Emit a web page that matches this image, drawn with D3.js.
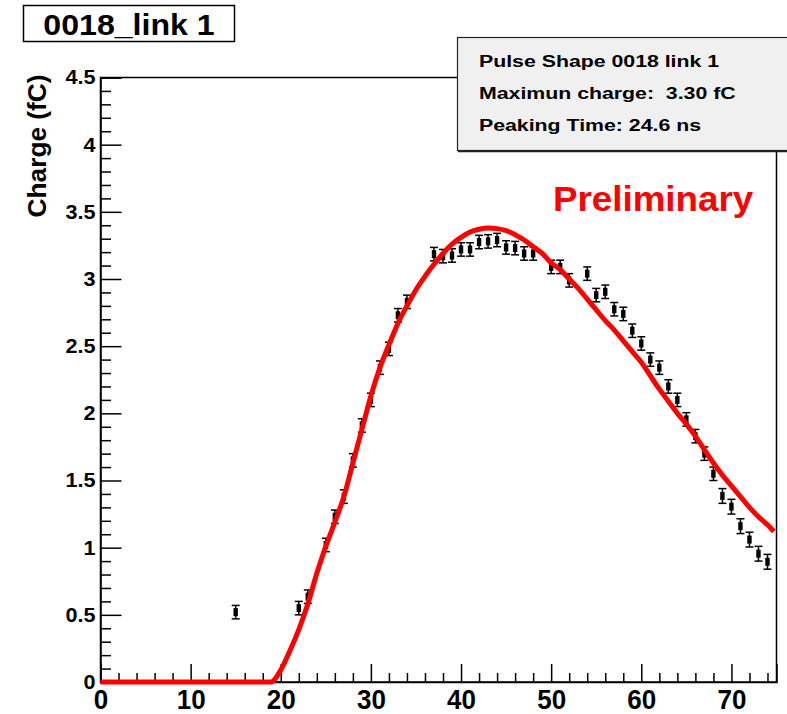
<!DOCTYPE html>
<html>
<head>
<meta charset="utf-8">
<script src="https://cdn.jsdelivr.net/npm/d3@7"></script>
<style>
  html, body { margin: 0; padding: 0; background: #fff; }
  svg { display: block; font-family: "Liberation Sans", Arial, Helvetica, sans-serif; font-weight: bold; }
  svg text { white-space: pre; }
</style>
</head>
<body>
<svg id="chart" width="787" height="714"></svg>
<script>
// Measured pulse samples: time (ns), charge (fC), vertical error (fC)
const sampleTime = [15, 22, 23, 25, 26, 27, 28, 29, 30, 31, 32, 33, 34, 37, 38, 39, 40, 41, 42, 43, 44, 45, 46, 47, 48,
  50, 51, 52, 54, 55, 56, 57, 58, 59, 60, 61, 62, 63, 64, 65, 66, 67, 68, 69, 70, 71, 72, 73, 74];
const sampleCharge = [0.52, 0.55, 0.635, 1.02, 1.23, 1.38, 1.65, 1.91, 2.10, 2.34, 2.48, 2.73, 2.83, 3.185, 3.17, 3.175,
  3.22, 3.22, 3.275, 3.28, 3.29, 3.235, 3.23, 3.19, 3.19, 3.09, 3.09, 2.99, 3.04, 2.88, 2.905, 2.775, 2.74, 2.615, 2.52,
  2.40, 2.34, 2.20, 2.10, 1.955, 1.83, 1.70, 1.55, 1.385, 1.305, 1.16, 1.06, 0.955, 0.895];
const sampleError = [0.05, 0.05, 0.05, 0.05, 0.05, 0.05, 0.05, 0.05, 0.05, 0.05, 0.05, 0.05, 0.05, 0.05, 0.05, 0.05,
  0.05, 0.05, 0.05, 0.05, 0.05, 0.05, 0.05, 0.05, 0.05, 0.05, 0.05, 0.05, 0.05, 0.05, 0.05, 0.05, 0.05, 0.05, 0.05,
  0.05, 0.05, 0.05, 0.05, 0.05, 0.05, 0.05, 0.05, 0.055, 0.055, 0.055, 0.055, 0.055, 0.055];

// Fitted pulse shape
const fitTime = [0, 18.9, 20, 21, 22, 23, 24, 25, 26, 27, 28, 29, 30, 31, 32, 33, 34, 35, 36, 37, 38, 39, 40, 41, 42, 43,
  44, 45, 46, 47, 48, 49, 50, 51, 52, 53, 54, 55, 56, 57, 58, 59, 60, 61, 62, 63, 64, 65, 66, 67, 68, 69, 70, 71, 72,
  73, 74, 74.7];
const fitCharge = [0, 0, 0.09, 0.23, 0.39, 0.58, 0.81, 1.01, 1.19, 1.38, 1.63, 1.88, 2.13, 2.34, 2.51, 2.67, 2.80, 2.92,
  3.02, 3.11, 3.19, 3.26, 3.31, 3.35, 3.37, 3.38, 3.375, 3.36, 3.33, 3.29, 3.24, 3.19, 3.12, 3.07, 3.00, 2.93, 2.85,
  2.77, 2.69, 2.62, 2.54, 2.46, 2.38, 2.28, 2.18, 2.09, 2.00, 1.92, 1.83, 1.73, 1.63, 1.54, 1.46, 1.38, 1.30, 1.23,
  1.17, 1.12];

const xMajorTicks = [0, 10, 20, 30, 40, 50, 60, 70];
const yMajorTicks = [0, 0.5, 1, 1.5, 2, 2.5, 3, 3.5, 4, 4.5];
const yTickLabels = ["0", "0.5", "1", "1.5", "2", "2.5", "3", "3.5", "4", "4.5"];

const titleText = "0018_link 1";
const yTitle = "Charge (fC)";
const statLines = ["Pulse Shape 0018 link 1", "Maximun charge:  3.30 fC", "Peaking Time: 24.6 ns"];
const stampText = "Preliminary";

const svg = d3.select("#chart");
const frameLeft = 100.5, frameRight = 776.5, frameTop = 77.5, frameBottom = 682;

const x = d3.scaleLinear().domain([0, 75]).range([frameLeft, frameRight]);
const y = d3.scaleLinear().domain([0, 4.5]).range([frameBottom, frameTop]);

// Widen text horizontally by a factor while keeping its height
function widen(sel, factor) {
  sel.each(function () {
    const w = this.getComputedTextLength();
    d3.select(this).attr("textLength", w * factor).attr("lengthAdjust", "spacingAndGlyphs");
  });
}

// Frame
svg.append("rect")
  .attr("x", frameLeft).attr("y", frameTop)
  .attr("width", frameRight - frameLeft).attr("height", frameBottom - frameTop)
  .attr("fill", "none").attr("stroke", "#000").attr("stroke-width", 1.5);

// X axis: minor ticks every 2 ns, major ticks every 10 ns, all pointing inward
const xMinor = d3.range(0, 75, 2).filter(v => v % 10 !== 0);
svg.append("g").attr("transform", `translate(0,${frameBottom})`)
  .call(d3.axisBottom(x).tickValues(xMinor).tickSize(-9).tickFormat(""))
  .call(g => g.select(".domain").remove())
  .call(g => g.selectAll("line").attr("stroke-width", 1.5));
svg.append("g").attr("transform", `translate(0,${frameBottom})`)
  .call(d3.axisBottom(x).tickValues(xMajorTicks).tickSize(-18).tickPadding(7).tickFormat(d3.format("d")))
  .call(g => g.select(".domain").attr("stroke-width", 1.5))
  .call(g => g.selectAll("line").attr("stroke-width", 1.5))
  .call(g => g.selectAll("text").attr("font-size", 26).attr("font-weight", "bold")
    .attr("font-family", "'Liberation Sans', Arial, sans-serif").attr("fill", "#000")
    .attr("transform", "scale(1,1.07)").attr("y", 7 / 1.07));

// Y axis: minor ticks every 0.1 fC, major every 0.5 fC
const yMinor = d3.range(0, 46).map(i => i / 10).filter(v => Math.abs(v * 2 - Math.round(v * 2)) > 1e-6);
svg.append("g").attr("transform", `translate(${frameLeft},0)`)
  .call(d3.axisLeft(y).tickValues(yMinor).tickSize(-10.5).tickFormat(""))
  .call(g => g.select(".domain").remove())
  .call(g => g.selectAll("line").attr("stroke-width", 1.5));
svg.append("g").attr("transform", `translate(${frameLeft},0)`)
  .call(d3.axisLeft(y).tickValues(yMajorTicks).tickSize(-21).tickPadding(5)
    .tickFormat((d, i) => yTickLabels[i]))
  .call(g => g.select(".domain").attr("stroke-width", 1.5))
  .call(g => g.selectAll("line").attr("stroke-width", 1.5))
  .call(g => g.selectAll("text").attr("font-size", 20).attr("font-weight", "bold")
    .attr("font-family", "'Liberation Sans', Arial, sans-serif").attr("fill", "#000"))
  .call(g => widen(g.selectAll("text"), 1.08));

// Y axis title, right-aligned at the top of the axis
svg.append("text")
  .attr("transform", `translate(46,${frameTop - 3}) rotate(-90)`)
  .attr("text-anchor", "end")
  .attr("font-size", 25)
  .text(yTitle)
  .call(widen, 1.05);

// Data points with error bars
const samples = sampleTime.map((t, i) => ({ t, q: sampleCharge[i], e: sampleError[i] }));
const pts = svg.append("g").attr("stroke", "#000").attr("stroke-width", 1.5);
pts.selectAll("line.bar").data(samples).join("line").attr("class", "bar")
  .attr("x1", d => x(d.t)).attr("x2", d => x(d.t))
  .attr("y1", d => y(d.q - d.e)).attr("y2", d => y(d.q + d.e));
pts.selectAll("line.capLo").data(samples).join("line").attr("class", "capLo")
  .attr("x1", d => x(d.t) - 4).attr("x2", d => x(d.t) + 4)
  .attr("y1", d => y(d.q - d.e)).attr("y2", d => y(d.q - d.e));
pts.selectAll("line.capHi").data(samples).join("line").attr("class", "capHi")
  .attr("x1", d => x(d.t) - 4).attr("x2", d => x(d.t) + 4)
  .attr("y1", d => y(d.q + d.e)).attr("y2", d => y(d.q + d.e));
svg.append("g").selectAll("rect").data(samples).join("rect")
  .attr("x", d => x(d.t) - 2.2).attr("y", d => y(d.q) - 4)
  .attr("width", 4.4).attr("height", 8).attr("fill", "#000");

// Fit curve
const fit = fitTime.map((t, i) => [t, fitCharge[i]]);
svg.append("path")
  .datum(fit)
  .attr("fill", "none")
  .attr("stroke", "#ff0000")
  .attr("stroke-width", 5)
  .attr("stroke-linejoin", "round")
  .attr("d", d3.line().x(d => x(d[0])).y(d => y(d[1])).curve(d3.curveMonotoneX));

// Stamp
svg.append("text")
  .attr("x", 553).attr("y", 211)
  .attr("font-size", 35)
  .attr("fill", "#ff0000")
  .text(stampText)
  .call(widen, 1.05);

// Statistics box
const stats = svg.append("g");
stats.append("rect")
  .attr("x", 457.5).attr("y", 37.5).attr("width", 336).attr("height", 113)
  .attr("fill", "#f0f0f0").attr("stroke", "#222").attr("stroke-width", 1.2);
stats.append("line")
  .attr("x1", 458).attr("x2", 787).attr("y1", 151.5).attr("y2", 151.5)
  .attr("stroke", "#222").attr("stroke-width", 1.5);
stats.selectAll("text").data(statLines).join("text")
  .attr("x", 479)
  .attr("y", (d, i) => 67 + i * 32)
  .attr("font-size", 16)
  .attr("fill", "#000")
  .text(d => d)
  .call(widen, 1.33);

// Title box
svg.append("rect")
  .attr("x", 23.5).attr("y", 5.5).attr("width", 211).attr("height", 36)
  .attr("fill", "#fff").attr("stroke", "#000").attr("stroke-width", 1.5);
svg.append("text")
  .attr("x", 129).attr("y", 35)
  .attr("text-anchor", "middle")
  .attr("font-size", 30)
  .text(titleText)
  .call(widen, 1.07);
</script>
</body>
</html>
